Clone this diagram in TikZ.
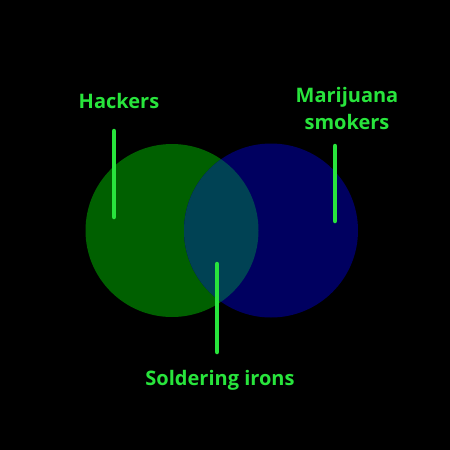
\documentclass[tikz,border=0pt]{standalone}
\usepackage{fontspec}
\setmainfont{Open Sans}
\definecolor{lbl}{RGB}{40,228,60}
\definecolor{gc}{RGB}{0,96,0}
\definecolor{bc}{RGB}{0,0,96}
\definecolor{tc}{RGB}{0,66,84}
\begin{document}
\begin{tikzpicture}[x=1pt,y=-1pt,
  lbltext/.style={text=lbl,font=\bfseries\fontsize{20}{27}\selectfont,align=center,inner sep=0pt},
  pointer/.style={draw=lbl,line width=4.5pt,line cap=round}]
\fill[black] (0,0) rectangle (450,450);
\useasboundingbox (0,0) rectangle (450,450);
\fill[gc] (172,230.5) circle (86.5);
\fill[bc] (271,230.5) circle (87);
\begin{scope}
  \clip (172,230.5) circle (86.5);
  \fill[tc] (271,230.5) circle (87);
\end{scope}
\node[lbltext] (hack) at (119,101) {Hackers};
\node[lbltext] (mari) at (347,108) {Marijuana\\smokers};
\node[lbltext] (sold) at (220,380) {Soldering irons};
\coordinate (h1) at (114,131);
\coordinate (h2) at (114,217);
\coordinate (m1) at (335,146);
\coordinate (m2) at (335,221);
\coordinate (s1) at (217,264);
\coordinate (s2) at (217,352);
\draw[pointer] (h1) -- (h2);
\draw[pointer] (m1) -- (m2);
\draw[pointer] (s1) -- (s2);
\end{tikzpicture}
\end{document}
